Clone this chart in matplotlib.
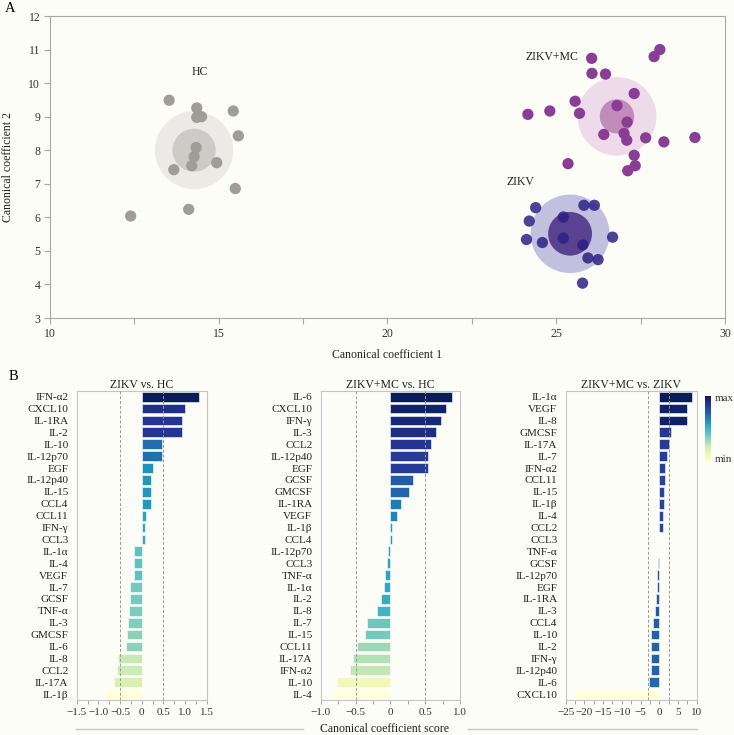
import matplotlib
matplotlib.use("Agg")
import matplotlib.pyplot as plt
import numpy as np
from matplotlib.patches import Circle
from matplotlib.colors import PowerNorm, Normalize
from matplotlib.cm import ScalarMappable
from matplotlib.lines import Line2D

plt.rcParams['font.family'] = ['Liberation Serif', 'DejaVu Serif']

# ---------------- Panel A data ----------------
hc_x = [13.53, 14.35, 14.35, 14.49, 15.43, 15.58, 14.33, 14.27, 14.20, 14.94, 13.67, 15.49, 14.11, 12.39]
hc_y = [9.49, 9.26, 8.98, 9.00, 9.17, 8.43, 8.08, 7.81, 7.54, 7.63, 7.42, 6.86, 6.24, 6.04]

mc_x = [26.05, 27.90, 28.07, 26.06, 26.46, 27.31, 25.56, 26.80, 24.81, 24.16, 25.69, 27.10,
        26.41, 27.01, 27.09, 27.65, 28.19, 29.11, 27.31, 27.34, 27.12, 25.35]
mc_y = [10.74, 10.79, 11.00, 10.29, 10.27, 9.69, 9.46, 9.33, 9.17, 9.07, 9.10, 8.84,
        8.47, 8.50, 8.30, 8.37, 8.25, 8.38, 7.85, 7.54, 7.39, 7.60]

zk_x = [24.39, 25.82, 26.13, 25.21, 24.20, 24.12, 24.59, 25.21, 25.79, 26.67, 25.94, 26.24, 25.78]
zk_y = [6.29, 6.36, 6.36, 6.01, 5.89, 5.34, 5.25, 5.38, 5.18, 5.41, 4.79, 4.74, 4.04]

group_names = ["HC", "ZIKV+MC", "ZIKV"]
center_x = [14.27, 26.80, 25.41]
center_y = [8.00, 9.01, 5.51]
outer_r = [1.16, 1.17, 1.17]
inner_r = [0.64, 0.51, 0.65]
label_x = [14.44, 24.86, 23.94]
label_y = [10.34, 10.77, 7.05]

# ---------------- Panel B data ----------------
p1_labels = ["IFN-α2", "CXCL10", "IL-1RA", "IL-2", "IL-10", "IL-12p70", "EGF", "IL-12p40", "IL-15",
             "CCL4", "CCL11", "IFN-γ", "CCL3", "IL-1α", "IL-4", "VEGF", "IL-7", "GCSF", "TNF-α",
             "IL-3", "GMCSF", "IL-6", "IL-8", "CCL2", "IL-17A", "IL-1β"]
p1_values = [1.33, 1.00, 0.94, 0.93, 0.48, 0.47, 0.25, 0.22, 0.22, 0.21, 0.10, 0.085, 0.085,
             -0.18, -0.18, -0.18, -0.27, -0.28, -0.30, -0.32, -0.35, -0.36, -0.55, -0.58, -0.65, -0.85]

p2_labels = ["IL-6", "CXCL10", "IFN-γ", "IL-3", "CCL2", "IL-12p40", "EGF", "GCSF", "GMCSF", "IL-1RA",
             "VEGF", "IL-1β", "CCL4", "IL-12p70", "CCL3", "TNF-α", "IL-1α", "IL-2", "IL-8", "IL-7",
             "IL-15", "CCL11", "IL-17A", "IFN-α2", "IL-10", "IL-4"]
p2_values = [0.89, 0.80, 0.73, 0.66, 0.59, 0.54, 0.54, 0.32, 0.27, 0.15, 0.10, 0.025, 0.025,
             -0.035, -0.055, -0.07, -0.09, -0.13, -0.19, -0.34, -0.37, -0.48, -0.54, -0.58, -0.76, -0.83]

p3_labels = ["IL-1α", "VEGF", "IL-8", "GMCSF", "IL-17A", "IL-7", "IFN-α2", "CCL11", "IL-15", "IL-1β",
             "IL-4", "CCL2", "CCL3", "TNF-α", "GCSF", "IL-12p70", "EGF", "IL-1RA", "IL-3", "CCL4",
             "IL-10", "IL-2", "IFN-γ", "IL-12p40", "IL-6", "CXCL10"]
p3_values = [8.8, 7.5, 7.45, 3.0, 2.5, 2.0, 1.6, 1.5, 1.25, 1.15, 1.0, 0.9, 0.05, -0.05, -0.35,
             -0.55, -0.6, -0.8, -1.1, -1.8, -2.15, -2.2, -2.3, -2.3, -2.75, -22.4]

titles = ["ZIKV vs. HC", "ZIKV+MC vs. HC", "ZIKV+MC vs. ZIKV"]
xlims = [(-1.5, 1.5), (-1.0, 1.0), (-25, 10)]
major_ticks = [[-1.5, -1.0, -0.5, 0, 0.5, 1.0, 1.5], [-1.0, -0.5, 0, 0.5, 1.0],
               [-25, -20, -15, -10, -5, 0, 5, 10]]
thresholds = [(-0.5, 0.5), (-0.5, 0.5), (-2.9, 2.55)]

# ---------------- Figure ----------------
BG = '#fdfdf8'
SP = '#a8a8a8'
fig = plt.figure(figsize=(7.34, 7.35), dpi=100, facecolor=BG)

ax = fig.add_axes([0.0681, 0.5673, 0.9196, 0.4109], facecolor=BG)
pt_cols = ['#a09d98', '#8a3d94', '#2c2284']
pt_alpha = [1.0, 1.0, 0.85]
outer_cols = ['#ebeae6', '#eedbe9', '#c2c0de']
inner_cols = ['#cdcbc7', '#c18bbb', '#59428f']
xs = [hc_x, mc_x, zk_x]
ys = [hc_y, mc_y, zk_y]
for i in range(3):
    ax.add_patch(Circle((center_x[i], center_y[i]), outer_r[i], facecolor=outer_cols[i], edgecolor='none', zorder=1))
    ax.add_patch(Circle((center_x[i], center_y[i]), inner_r[i], facecolor=inner_cols[i], edgecolor='none', zorder=2))
    ax.scatter(xs[i], ys[i], s=66, color=pt_cols[i], alpha=pt_alpha[i], edgecolors='none', zorder=3)
    ax.text(label_x[i], label_y[i], group_names[i], ha='center', va='center', fontsize=8.5, color='#222222')

ax.set_xlim(10, 30)
ax.set_ylim(3, 12)
ax.set_xticks([10, 15, 20, 25, 30])
ax.set_xticks([12.5, 17.5, 22.5, 27.5], minor=True)
ax.set_yticks(range(3, 13))
for s in ax.spines.values():
    s.set_color(SP)
    s.set_linewidth(0.8)
ax.tick_params(which='both', direction='out', length=4, width=0.8, color=SP, labelsize=8.5, labelcolor='#333333', pad=3)
ax.set_xlabel("Canonical coefficient 1", fontsize=8.5, color='#222222', labelpad=7)
ax.set_ylabel("Canonical coefficient 2", fontsize=8.5, color='#222222', labelpad=10)

fig.text(5/734, 1-8/735, "A", fontsize=10.5, ha='left', va='center')
fig.text(9/734, 1-377/735, "B", fontsize=10.5, ha='left', va='center')

# ---------------- Bar panels ----------------
cmap = plt.get_cmap('YlGnBu')
lefts = [0.1045, 0.4369, 0.7707]
widths = [0.1771, 0.1898, 0.1785]
labels_all = [p1_labels, p2_labels, p3_labels]
values_all = [p1_values, p2_values, p3_values]
for k in range(3):
    bx = fig.add_axes([lefts[k], 0.0476, widths[k], 0.4208], facecolor=BG)
    vals = np.array(values_all[k])
    norm = PowerNorm(gamma=0.7, vmin=vals.min(), vmax=vals.max())
    cols = cmap(norm(vals))
    ypos = np.arange(len(vals))
    bx.barh(ypos, vals, height=0.82, color=cols, edgecolor='white', linewidth=0.4, zorder=2)
    for t in thresholds[k]:
        bx.axvline(t, color='#999999', linestyle=(0, (3, 2)), linewidth=0.7, zorder=3)
    bx.set_ylim(len(vals) - 0.5, -0.5)
    bx.set_xlim(*xlims[k])
    bx.set_yticks(ypos)
    bx.set_yticklabels(labels_all[k])
    mt = major_ticks[k]
    bx.set_xticks(mt)
    step = mt[1] - mt[0]
    bx.set_xticks(np.arange(mt[0], mt[-1] + 1e-9, step / 2), minor=True)
    if k == 2:
        tl = ['0' if v == 0 else ('−%g' % abs(v) if v < 0 else '%g' % v) for v in mt]
    else:
        tl = ['0' if v == 0 else ('−%.1f' % abs(v) if v < 0 else '%.1f' % v) for v in mt]
    bx.set_xticklabels(tl)
    for s in bx.spines.values():
        s.set_color('#c4c4c4')
        s.set_linewidth(0.8)
    bx.tick_params(axis='y', length=0, labelsize=8, pad=6, labelcolor='#222222')
    bx.tick_params(axis='x', which='both', direction='out', length=3, width=0.6, color='#999999',
                   labelsize=8, labelcolor='#333333', pad=3)
    bx.set_title(titles[k], fontsize=8.5, color='#222222', pad=2)

# colorbar
cax = fig.add_axes([0.9605, 0.371, 0.0078, 0.0906])
sm = ScalarMappable(norm=Normalize(0, 1), cmap=cmap)
cb = fig.colorbar(sm, cax=cax)
cb.outline.set_visible(False)
cb.set_ticks([])
fig.text(715/734, 1-399/735, "max", fontsize=8, ha='left', va='center', color='#333333')
fig.text(715/734, 1-459/735, "min", fontsize=8, ha='left', va='center', color='#333333')

# bottom shared label with line
ly = 1 - 729/735
fig.add_artist(Line2D([76/734, 303/734], [ly, ly], color='#c4c4c4', linewidth=1.0))
fig.add_artist(Line2D([468/734, 697/734], [ly, ly], color='#c4c4c4', linewidth=1.0))
fig.text(385/734, ly, "Canonical coefficient score", fontsize=8.5, ha='center', va='center', color='#222222')

fig.savefig("out.png", dpi=100, facecolor=BG)
